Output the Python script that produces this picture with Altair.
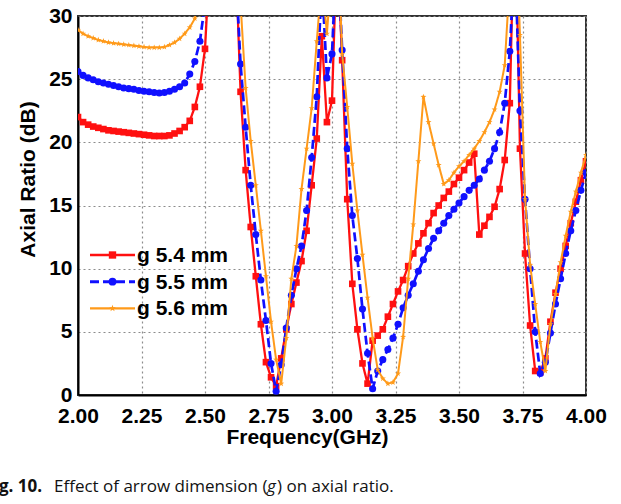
import altair as alt
import pandas as pd

# ---------------- data ----------------
freq = [round(2.0 + 0.02 * i, 2) for i in range(101)]

ar_54 = [22.0, 21.6, 21.4, 21.25, 21.15, 21.05, 20.95, 20.9, 20.85, 20.8,
         20.75, 20.7, 20.65, 20.6, 20.55, 20.5, 20.5, 20.5, 20.55, 20.7,
         20.9, 21.2, 21.7, 22.8, 24.4, 27.4, 35, 40, 40, 40,
         40, 35, 24.0, 17.8, 13.3, 9.4, 5.6, 2.6, 1.4, 0.7,
         2.9, 5.2, 7.2, 8.9, 10.6, 13.0, 16.6, 20.3, 28.4, 21.6,
         23.3, 36, 26.5, 15.5, 8.8, 5.2, 2.5, 0.9, 4.3, 4.7,
         5.2, 6.2, 7.2, 8.2, 9.1, 10.2, 11.2, 12.0, 12.8, 13.6,
         14.4, 15.0, 15.6, 16.1, 16.7, 17.2, 17.8, 18.4, 19.1, 12.7,
         13.4, 14.1, 14.9, 16.3, 18.6, 23.1, 40, 19.5, 11.2, 5.5,
         1.9, 1.8, 2.9, 5.8, 8.1, 10.0, 11.8, 13.6, 15.3, 17.0,
         18.5]

ar_55 = [25.6, 25.3, 25.1, 24.95, 24.8, 24.7, 24.6, 24.5, 24.4, 24.3,
         24.25, 24.2, 24.1, 24.05, 24.0, 23.95, 23.9, 23.95, 24.05, 24.2,
         24.4, 24.7, 25.4, 26.4, 28.0, 31, 40, 40, 40, 40,
         40, 34, 26.2, 21.2, 16.6, 12.7, 9.1, 5.9, 2.5, 0.3,
         2.4, 5.3, 7.9, 10.0, 11.8, 14.6, 18.8, 23.6, 33, 25.1,
         27.0, 36, 27.3, 19.5, 14.2, 10.8, 6.8, 3.3, 0.5, 1.9,
         2.8, 3.6, 4.5, 5.6, 6.9, 7.9, 8.8, 9.8, 10.7, 11.6,
         12.4, 13.0, 13.6, 14.2, 14.7, 15.2, 15.7, 16.2, 16.6, 17.1,
         17.8, 18.5, 19.5, 20.8, 23.1, 27.2, 35, 22.5, 15.5, 10.0,
         5.0, 1.7, 2.6, 4.9, 7.2, 9.2, 11.2, 13.0, 14.6, 16.2,
         17.6]

ar_56 = [28.9, 28.6, 28.4, 28.25, 28.1, 28.0, 27.9, 27.85, 27.8, 27.75,
         27.7, 27.65, 27.6, 27.55, 27.5, 27.5, 27.5, 27.55, 27.7, 27.9,
         28.2, 28.6, 29.1, 29.8, 32, 40, 40, 40, 40, 40,
         40, 40, 31, 24.3, 20.1, 16.6, 13.0, 9.4, 5.8, 2.8,
         0.9, 4.5, 9.2, 11.8, 16.3, 19.5, 22.7, 28.0, 33, 28.6,
         34, 38, 27.0, 22.8, 18.3, 14.6, 11.1, 7.7, 4.5, 2.0,
         1.3, 0.9, 1.0, 1.7, 4.6, 9.2, 13.5, 18.5, 23.6, 21.6,
         19.9, 18.2, 16.7, 17.0, 17.6, 18.1, 18.5, 19.0, 19.5, 20.1,
         20.8, 21.6, 22.6, 24.0, 26.1, 33, 40, 28.5, 15.5, 10.3,
         7.2, 4.2, 1.9, 5.6, 8.0, 10.5, 12.6, 14.5, 16.1, 17.6,
         19.0]

names = ["g 5.4 mm", "g 5.5 mm", "g 5.6 mm"]
colors = ["#ff1010", "#1010ff", "#ff9a1a"]
x_ticks = [2.0, 2.25, 2.5, 2.75, 3.0, 3.25, 3.5, 3.75, 4.0]
y_ticks = [0, 5, 10, 15, 20, 25, 30]
caption_bold = ["g. 10."]
caption_a = ["Effect of arrow dimension ("]
caption_g = ["g"]
caption_b = [") on axial ratio."]

STAR = ("M0,-1L0.235,-0.324L0.951,-0.309L0.38,0.124L0.588,0.809L0,0.4"
        "L-0.588,0.809L-0.38,0.124L-0.951,-0.309L-0.235,-0.324Z")

rows = []
for name, vals in zip(names, [ar_54, ar_55, ar_56]):
    for f, v in zip(freq, vals):
        rows.append({"freq": f, "ar": v, "series": name})
df = pd.DataFrame(rows)

FONT = "Liberation Sans"

x_enc = alt.X("freq:Q",
              scale=alt.Scale(domain=[2, 4], nice=False, zero=False),
              axis=alt.Axis(values=x_ticks, format=".2f", title="Frequency(GHz)",
                            titleX=229, titleY=31, titleAlign="center",
                            ticks=False, labelPadding=10, labelFlush=False,
                            labelOverlap=False))
y_enc = alt.Y("ar:Q",
              scale=alt.Scale(domain=[0, 30], nice=False, zero=True),
              axis=alt.Axis(values=y_ticks, format="d", title="Axial Ratio (dB)",
                            titleX=-50, titleY=163, titleAlign="center",
                            titleBaseline="middle",
                            ticks=False, labelPadding=6, labelOverlap=False))

color_scale = alt.Scale(domain=names, range=colors)
dashes = [[1, 0], [9, 4], [1, 0]]
dash_scale = alt.Scale(domain=names, range=dashes)

shapes = ["square", "circle", STAR]
sizes = [44, 50, 40]
widths = [2.3, 2.7, 2.0]

base = alt.Chart(df)
layers = []
for name, shp, sz, w in zip(names, shapes, sizes, widths):
    sub = base.transform_filter(alt.datum.series == name)
    line = sub.mark_line(clip=True, strokeWidth=w).encode(
        x=x_enc, y=y_enc,
        color=alt.Color("series:N", scale=color_scale, legend=None),
        strokeDash=alt.StrokeDash("series:N", scale=dash_scale, legend=None),
    )
    pts = sub.mark_point(clip=True, filled=True, shape=shp, size=sz, opacity=1,
                         strokeWidth=0).encode(
        x=x_enc, y=y_enc,
        color=alt.Color("series:N", scale=color_scale, legend=None),
    )
    layers += [line, pts]

# ---------------- legend (line + marker + label per series) ----------------
leg_rows_y = [239, 265.7, 292.3]
for name, c, shp, sz, w, d, ly in zip(names, colors, shapes, sizes, widths, dashes, leg_rows_y):
    ldf = pd.DataFrame({"t": [name]})
    lrule = alt.Chart(ldf).mark_rule(color=c, strokeWidth=w + 0.2, strokeDash=d).encode(
        x=alt.value(12), x2=alt.value(57), y=alt.value(ly))
    lpt = alt.Chart(ldf).mark_point(filled=True, shape=shp, size=sz + 10, color=c,
                                    opacity=1, strokeWidth=0).encode(
        x=alt.value(34.5), y=alt.value(ly))
    ltxt = alt.Chart(ldf).mark_text(align="left", baseline="middle", font=FONT,
                                    fontSize=21, fontWeight="bold", color="black").encode(
        x=alt.value(59), y=alt.value(ly + 1), text="t:N")
    layers += [lrule, lpt, ltxt]

CAP_SIZE = 17

def cap(text_list, xpos, weight="normal", style="normal"):
    return alt.Chart(pd.DataFrame({"t": text_list})).mark_text(
        align="left", baseline="middle", font="Open Sans", fontSize=CAP_SIZE,
        fontWeight=weight, fontStyle=style, color="#111"
    ).encode(x=alt.value(xpos), y=alt.value(471), text="t:N")

layers += [cap(caption_bold, -79, "bold"), cap(caption_a, -24),
           cap(caption_g, 189, style="italic"), cap(caption_b, 199)]

chart = alt.layer(*layers).properties(
    width=508, height=379,
    autosize=alt.AutoSizeParams(type="none"),
    padding={"left": 78, "top": 16, "right": 35, "bottom": 109},
    background="white",
).configure_axis(
    labelFont=FONT, labelFontSize=21, labelFontWeight="bold", labelColor="black",
    titleFont=FONT, titleFontSize=21, titleFontWeight="bold", titleColor="black",
    domainColor="black", domainWidth=2,
    gridColor="#8c8c8c", gridDash=[2, 3], gridWidth=1.2,
).configure_view(stroke="#333", strokeWidth=2)

chart.save("out.html", embed_options={"renderer": "svg", "actions": False})
